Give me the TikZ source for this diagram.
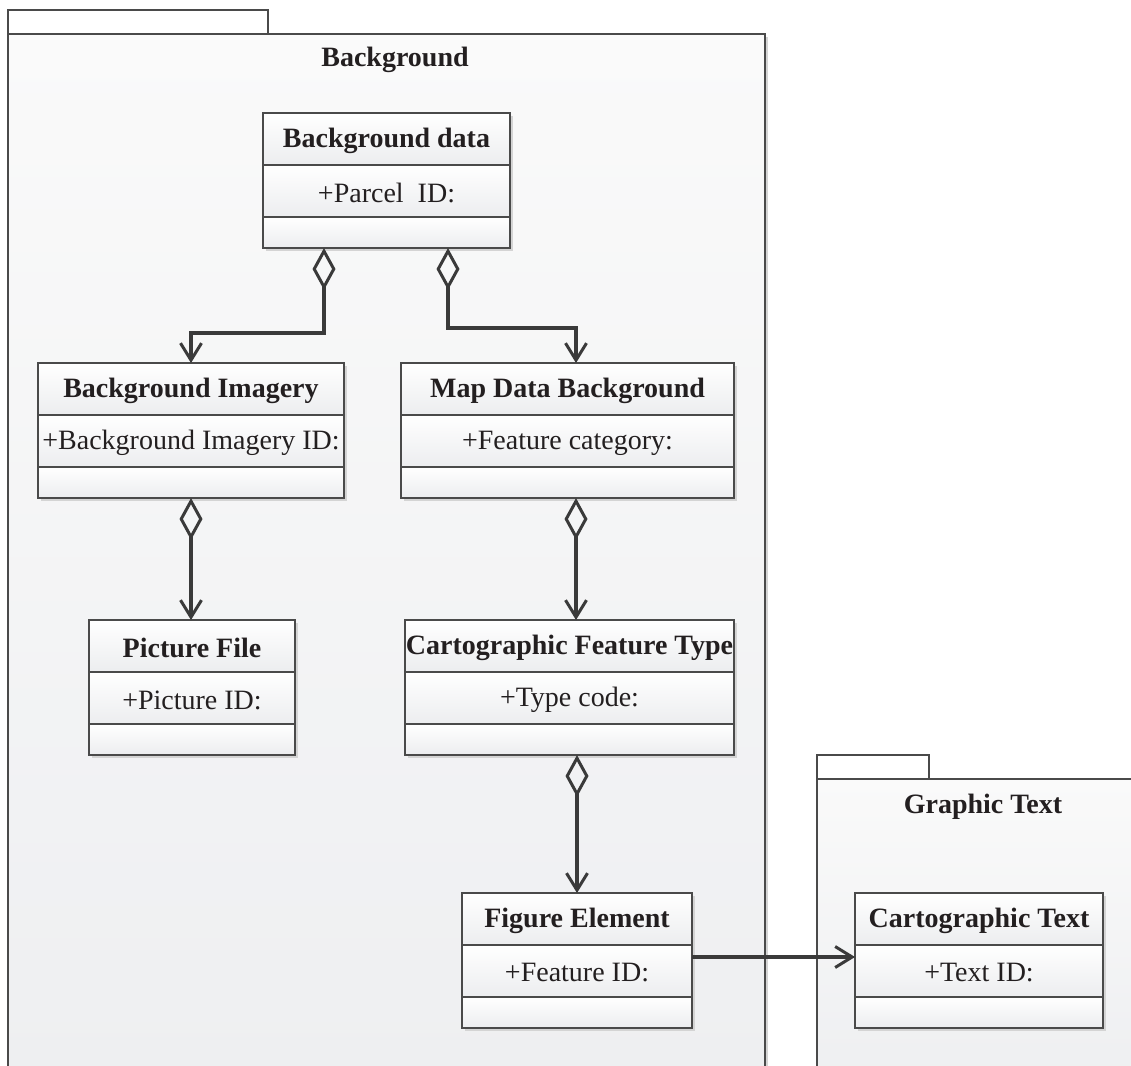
\documentclass[tikz,border=0pt]{standalone}
\usepackage{fontspec}
\setmainfont{Liberation Serif}
\usetikzlibrary{arrows.meta}

\definecolor{ink}{HTML}{231F20}
\definecolor{edge}{HTML}{4A4A4A}
\definecolor{wire}{HTML}{3A3A3A}
\definecolor{cellbot}{HTML}{ECEDEF}
\definecolor{pkgtop}{HTML}{FAFAFA}
\definecolor{pkgbot}{HTML}{EEEFF1}
\definecolor{shadowgrey}{HTML}{D4D4D4}

\tikzset{
  pkgbody/.style={draw=edge, line width=1.3bp, top color=pkgtop, bottom color=pkgbot},
  pkgtab/.style={draw=edge, line width=1.3bp, fill=white},
  pkgtitle/.style={font=\fontsize{28bp}{32bp}\selectfont\bfseries, text=ink, inner sep=0pt},
  cellshade/.style={top color=white, bottom color=cellbot},
  boxshadow/.style={fill=shadowgrey},
  classframe/.style={draw=edge, line width=1.3bp, rectangle, inner sep=0pt, outer sep=0pt},
  cellrule/.style={draw=edge, line width=1.3bp},
  classtitle/.style={font=\fontsize{28bp}{32bp}\selectfont\bfseries, text=ink, inner sep=0pt},
  classattr/.style={font=\fontsize{28bp}{32bp}\selectfont, text=ink, inner sep=0pt},
  agg/.style={draw=wire, line width=3.2bp,
    {Diamond[open, length=42bp, width=23bp, line width=3bp]}-{Straight Barb[length=17bp, width=21bp, line width=3bp]}},
  nav/.style={draw=wire, line width=3.2bp,
    -{Straight Barb[length=17bp, width=21bp, line width=3bp]}},
}

% UML class box: name, left, top, right, class name, attribute
\newcommand{\umlclass}[6]{%
  \fill[boxshadow] ({#2+3},{#3+3}) rectangle ({#4+3},{#3+138});
  \shade[cellshade] (#2,#3) rectangle (#4,{#3+52});
  \shade[cellshade] (#2,{#3+52}) rectangle (#4,{#3+104});
  \shade[cellshade] (#2,{#3+104}) rectangle (#4,{#3+135});
  \node[classframe, minimum width={(#4-#2)*1bp}, minimum height=135bp] (#1) at ({(#2+#4)/2},{#3+67.5}) {};
  \draw[cellrule] (#2,{#3+52}) -- (#4,{#3+52});
  \draw[cellrule] (#2,{#3+104}) -- (#4,{#3+104});
  \node[classtitle] (#1-title) at ({(#2+#4)/2},{#3+28}) {#5};
  \node[classattr] (#1-attr) at ({(#2+#4)/2},{#3+80}) {#6};
}

\begin{document}
\begin{tikzpicture}[x=1bp, y=-1bp]
  \useasboundingbox (0,0) rectangle (1131,1066);
  \fill[white] (0,0) rectangle (1131,1066);
  \clip (0,0) rectangle (1131,1066);

  % package "Background"
  \fill[shadowgrey] (11,37) rectangle (768,1080);
  \path[pkgtab] (8,10) rectangle (268,34);
  \path[pkgbody] (8,34) rectangle (765,1080);
  \node[pkgtitle] (pkgbg) at (395,60) {Background};

  % package "Graphic Text"
  \fill[shadowgrey] (820,782) rectangle (1140,1080);
  \path[pkgtab] (817,755) rectangle (929,779);
  \path[pkgbody] (817,779) rectangle (1140,1080);
  \node[pkgtitle] (pkggt) at (983,807) {Graphic Text};

  % classes
  \umlclass{bgdata}{263}{113}{510}{Background data}{+Parcel\ \ ID:}
  \umlclass{imagery}{38}{363}{344}{Background Imagery}{+Background Imagery ID:}
  \umlclass{mapdata}{401}{363}{734}{Map Data Background}{+Feature category:}
  \umlclass{picture}{89}{620}{295}{Picture File}{+Picture ID:}
  \umlclass{cftype}{405}{620}{734}{Cartographic Feature Type}{+Type code:}
  \umlclass{figure}{462}{893}{692}{Figure Element}{+Feature ID:}
  \umlclass{ctext}{855}{893}{1103}{Cartographic Text}{+Text ID:}

  % aggregations
  \draw[agg] ([xshift=-62.5bp]bgdata.south) -- ++(0,85) -| (imagery.north);
  \draw[agg] ([xshift=61.5bp]bgdata.south) -- ++(0,80) -| ([xshift=8.5bp]mapdata.north);
  \draw[agg] (imagery.south) -- (imagery.south |- picture.north);
  \draw[agg] ([xshift=8.5bp]mapdata.south) -- ([xshift=8.5bp]mapdata.south |- cftype.north);
  \draw[agg] (cftype.south -| figure.north) -- (figure.north);

  % association
  \draw[nav] ([yshift=3.5bp]figure.east) -- ([yshift=3.5bp]figure.east -| ctext.west);
\end{tikzpicture}
\end{document}
